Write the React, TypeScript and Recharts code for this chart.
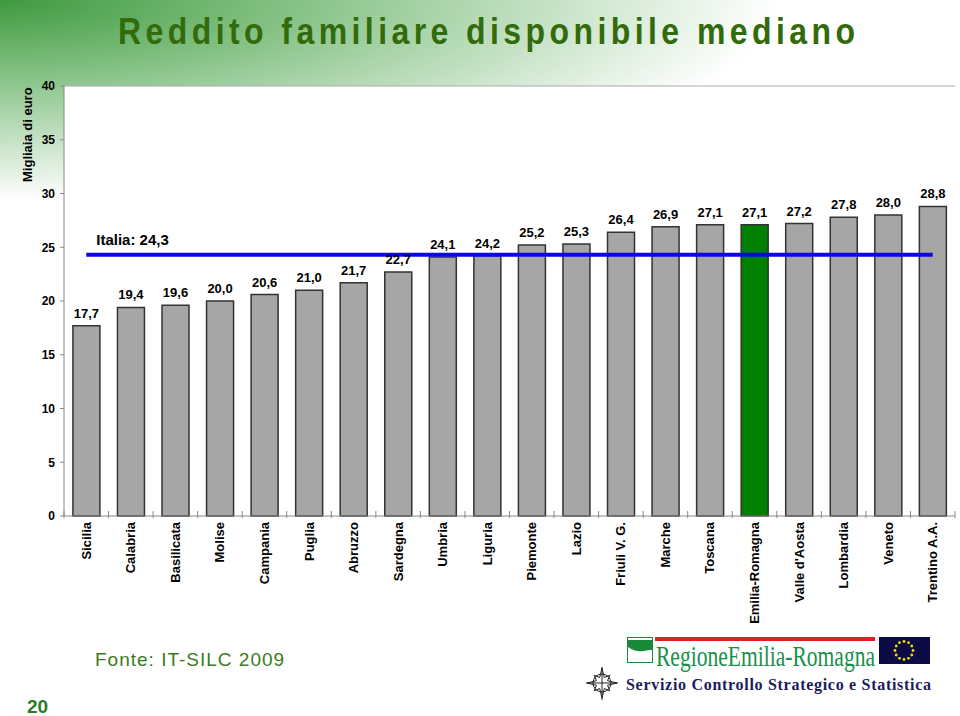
import React from 'react';
import {
  ComposedChart,
  Bar,
  Cell,
  XAxis,
  YAxis,
  CartesianGrid,
  ReferenceLine,
  LabelList,
} from 'recharts';

const regions = [
  'Sicilia', 'Calabria', 'Basilicata', 'Molise', 'Campania', 'Puglia', 'Abruzzo',
  'Sardegna', 'Umbria', 'Liguria', 'Piemonte', 'Lazio', 'Friuli V. G.', 'Marche',
  'Toscana', 'Emilia-Romagna', "Valle d'Aosta", 'Lombardia', 'Veneto', 'Trentino A.A.',
];
const reddito = [
  17.7, 19.4, 19.6, 20.0, 20.6, 21.0, 21.7, 22.7, 24.1, 24.2,
  25.2, 25.3, 26.4, 26.9, 27.1, 27.1, 27.2, 27.8, 28.0, 28.8,
];
const italia = 24.3;
const highlighted = 'Emilia-Romagna';
const yTicks = [0, 5, 10, 15, 20, 25, 30, 35, 40];

const data = regions.map((r, i) => ({ region: r, value: reddito[i] }));

const FONT = '"Liberation Sans", Arial, sans-serif';
const SERIF = '"Liberation Serif", "Times New Roman", serif';
const fmt = (v: number) => v.toFixed(1).replace('.', ',');

function RegionTick(props: any) {
  const { x, y, payload, index, visibleTicksCount, width } = props;
  const half = payload && payload.offset > 0 ? payload.offset : width / visibleTicksCount / 2;
  return (
    <g>
      <line x1={x - half} x2={x - half} y1={y - 11} y2={y - 4} stroke="#888" />
      {index === visibleTicksCount - 1 && (
        <line x1={x + half} x2={x + half} y1={y - 11} y2={y - 4} stroke="#888" />
      )}
      <text
        x={x}
        y={y}
        transform={`rotate(-90 ${x} ${y})`}
        textAnchor="end"
        dominantBaseline="central"
        fontFamily={FONT}
        fontWeight="bold"
        fontSize={13}
        fill="#000"
      >
        {payload.value}
      </text>
    </g>
  );
}

function EuFlag() {
  const stars = Array.from({ length: 12 }, (_, i) => {
    const a = (i / 12) * Math.PI * 2;
    return <circle key={i} cx={25 + Math.cos(a) * 9} cy={13.5 + Math.sin(a) * 9} r={1.4} fill="#f5d800" />;
  });
  return (
    <svg width={51} height={27} style={{ position: 'absolute', left: 879, top: 637 }}>
      <rect width={51} height={27} fill="#0b0b45" />
      {stars}
    </svg>
  );
}

function Compass() {
  const pts = Array.from({ length: 16 }, (_, i) => {
    const a = (i / 16) * Math.PI * 2;
    const r = i % 2 === 0 ? (i % 4 === 0 ? 15 : 11) : 6;
    return `${16 + Math.cos(a) * r},${16 + Math.sin(a) * r}`;
  }).join(' ');
  return (
    <svg width={32} height={34} style={{ position: 'absolute', left: 586, top: 667 }}>
      <circle cx={16} cy={16} r={9} fill="none" stroke="#222" strokeWidth={1} />
      <polygon points={pts} fill="none" stroke="#222" strokeWidth={1} />
      <line x1={16} y1={0} x2={16} y2={33} stroke="#222" />
      <line x1={0} y1={16} x2={32} y2={16} stroke="#222" />
    </svg>
  );
}

export default function App() {
  return (
    <div
      style={{
        position: 'absolute',
        left: 0,
        top: 0,
        width: 960,
        height: 716,
        overflow: 'hidden',
        background:
          'radial-gradient(ellipse 780px 200px at 0 0, #3f9a40 0%, #80bf80 35%, rgba(255,255,255,0) 100%), #fff',
        fontFamily: FONT,
      }}
    >
      <svg width={960} height={62} style={{ position: 'absolute', left: 0, top: 0 }}>
        <text
          x={118}
          y={0}
          transform="translate(0 44) scale(1 1.15)"
          textLength={737}
          lengthAdjust="spacing"
          fontFamily={FONT}
          fontWeight="bold"
          fontSize={32}
          fill="#336b0c"
        >
          Reddito familiare disponibile mediano
        </text>
      </svg>

      <div
        style={{
          position: 'absolute',
          left: 20,
          top: 182,
          transformOrigin: 'left top',
          transform: 'rotate(-90deg)',
          fontSize: 13,
          fontWeight: 'bold',
          whiteSpace: 'nowrap',
          color: '#000',
        }}
      >
        Migliaia di euro
      </div>

      <div style={{ position: 'absolute', left: 0, top: 0 }}>
        <ComposedChart
          width={960}
          height={640}
          data={data}
          margin={{ top: 86, right: 5, left: 0, bottom: 0 }}
          barCategoryGap="20%"
        >
          <CartesianGrid horizontal={false} vertical={false} fill="#fff" />
          <XAxis
            dataKey="region"
            interval={0}
            height={124}
            tickLine={false}
            tickSize={0}
            tickMargin={6}
            axisLine={{ stroke: '#888' }}
            tick={<RegionTick />}
          />
          <YAxis
            domain={[0, 40]}
            ticks={yTicks}
            width={64}
            tickSize={4}
            tickMargin={5}
            axisLine={{ stroke: '#888' }}
            tickLine={{ stroke: '#888' }}
            tick={{ fontFamily: FONT, fontWeight: 'bold', fontSize: 12, fill: '#000' }}
          />
          <YAxis
            yAxisId="r"
            orientation="right"
            domain={[0, 40]}
            width={0}
            tick={false}
            tickLine={false}
            axisLine={{ stroke: '#aaa' }}
          />
          <ReferenceLine y={40} stroke="#aaa" />
          <Bar dataKey="value" stroke="#333" strokeWidth={1.5} isAnimationActive={false}>
            {data.map(d => (
              <Cell key={d.region} fill={d.region === highlighted ? '#008000' : '#a6a6a6'} />
            ))}
            <LabelList
              dataKey="value"
              position="top"
              offset={8}
              formatter={(v: any) => fmt(Number(v))}
              style={{ fontFamily: FONT, fontWeight: 'bold', fontSize: 13, fill: '#000' }}
            />
          </Bar>
          <ReferenceLine
            segment={[
              { x: regions[0], y: italia },
              { x: regions[regions.length - 1], y: italia },
            ]}
            stroke="#0a0ae0"
            strokeWidth={4}
            label={{
              value: `Italia: ${fmt(italia)}`,
              position: 'insideBottomLeft',
              offset: 10,
              style: { fontFamily: FONT, fontWeight: 'bold', fontSize: 15, fill: '#000' },
            }}
          />
        </ComposedChart>
      </div>

      <div
        style={{
          position: 'absolute',
          left: 95,
          top: 649,
          fontSize: 19,
          letterSpacing: 1,
          color: '#3c7a20',
          whiteSpace: 'nowrap',
        }}
      >
        Fonte: IT-SILC 2009
      </div>
      <div
        style={{
          position: 'absolute',
          left: 27,
          top: 696,
          fontSize: 19,
          fontWeight: 'bold',
          color: '#2a7a2a',
        }}
      >
        20
      </div>

      {/* logo */}
      <svg width={26} height={26} style={{ position: 'absolute', left: 627, top: 637 }}>
        <rect x={0.5} y={0.5} width={25} height={25} fill="#fff" stroke="#1a8a3a" />
        <path d="M1 3 L25 3 L25 13 C18 12 12 18 1 10 Z" fill="#1a8a3a" />
      </svg>
      <div style={{ position: 'absolute', left: 655, top: 637, width: 220, height: 4, background: '#e02020' }} />
      <svg width={306} height={40} style={{ position: 'absolute', left: 654, top: 640 }}>
        <text
          x={2}
          y={26}
          textLength={219}
          lengthAdjust="spacingAndGlyphs"
          fontFamily={SERIF}
          fontSize={30}
          fill="#17904a"
        >
          RegioneEmilia-Romagna
        </text>
      </svg>
      <EuFlag />
      <Compass />
      <svg width={310} height={24} style={{ position: 'absolute', left: 624, top: 673 }}>
        <text
          x={2}
          y={17}
          textLength={305}
          lengthAdjust="spacing"
          fontFamily={SERIF}
          fontWeight="bold"
          fontSize={16}
          fill="#1c1c5c"
        >
          Servizio Controllo Strategico e Statistica
        </text>
      </svg>
    </div>
  );
}
